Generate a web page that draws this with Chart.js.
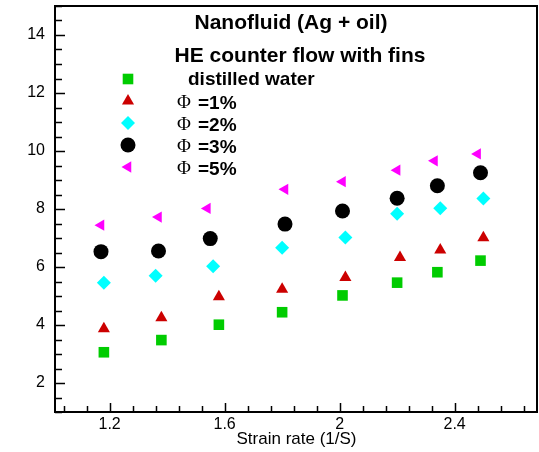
<!DOCTYPE html>
<html>
<head>
<meta charset="utf-8">
<script src="https://cdn.jsdelivr.net/npm/chart.js@4.4.1/dist/chart.umd.min.js"></script>
<style>
  html, body { margin: 0; padding: 0; background: #fff; }
  #wrap { width: 539px; height: 452px; }
</style>
</head>
<body>
<div id="wrap"><canvas id="chart" width="539" height="452"></canvas></div>
<script>
// --- data ---
const waterX = [1.18, 1.38, 1.58, 1.80, 2.01, 2.20, 2.34, 2.49];
const waterY = [3.06, 3.48, 4.01, 4.44, 5.02, 5.46, 5.82, 6.22];

const phi1X = [1.18, 1.38, 1.58, 1.80, 2.02, 2.21, 2.35, 2.50];
const phi1Y = [3.87, 4.25, 4.97, 5.23, 5.64, 6.33, 6.59, 7.01];

const phi2X = [1.18, 1.36, 1.56, 1.80, 2.02, 2.20, 2.35, 2.50];
const phi2Y = [5.46, 5.70, 6.03, 6.66, 7.02, 7.84, 8.03, 8.36];

const phi3X = [1.17, 1.37, 1.55, 1.81, 2.01, 2.20, 2.34, 2.49];
const phi3Y = [6.53, 6.55, 6.98, 7.48, 7.93, 8.37, 8.80, 9.25];

const phi5X = [1.17, 1.37, 1.54, 1.81, 2.01, 2.20, 2.33, 2.48];
const phi5Y = [7.44, 7.72, 8.02, 8.68, 8.94, 9.34, 9.66, 9.90];

const seriesNames = ['distilled water', '=1%', '=2%', '=3%', '=5%'];
const xTicks = [1.2, 1.6, 2, 2.4];
const xTickLabels = ['1.2', '1.6', '2', '2.4'];
const yTicks = [2, 4, 6, 8, 10, 12, 14];
const yTickLabels = ['2', '4', '6', '8', '10', '12', '14'];

const toPoints = (xs, ys) => xs.map((x, i) => ({ x: x, y: ys[i] }));

const SANS = '"Liberation Sans", Arial, sans-serif';

// inward tick marks + box frame
const frameTicks = {
    id: 'frameTicks',
    afterDraw(chart) {
        const { ctx, chartArea: a, scales: { x, y } } = chart;
        ctx.save();
        ctx.strokeStyle = '#000';
        ctx.lineWidth = 1.5;
        ctx.beginPath();
        // y: minor every 0.5, major every 2
        for (let i = 0; i <= 28; i++) {
            const v = 1 + i * 0.5;
            const p = Math.round(y.getPixelForValue(v)) + 0.5;
            const len = (i % 4 === 2) ? 10 : 7;
            ctx.moveTo(a.left, p);
            ctx.lineTo(a.left + len, p);
        }
        // x: minor every 0.08, major every 0.4
        for (let i = 0; i <= 20; i++) {
            const v = 1.04 + i * 0.08;
            const p = Math.round(x.getPixelForValue(v)) + 0.5;
            const len = (i % 5 === 2) ? 9 : 6;
            ctx.moveTo(p, a.bottom);
            ctx.lineTo(p, a.bottom - len);
        }
        ctx.stroke();
        ctx.lineWidth = 2;
        ctx.strokeRect(a.left, a.top, a.right - a.left - 1, a.bottom - a.top);
        ctx.restore();
    }
};

// title block and legend inside the plot
const notes = {
    id: 'notes',
    afterDraw(chart) {
        const ctx = chart.ctx;
        ctx.save();
        ctx.fillStyle = '#000';
        ctx.textBaseline = 'middle';
        ctx.textAlign = 'center';
        ctx.font = 'bold 21px ' + SANS;
        ctx.fillText('Nanofluid (Ag + oil)', 291, 23);
        ctx.fillText('HE counter flow with fins', 300, 56);

        const rows = [79, 101, 123, 145, 167];
        chart.data.datasets.forEach((ds, i) => {
            const opts = {
                pointStyle: ds.pointStyle,
                radius: ds.pointRadius,
                rotation: ds.rotation || 0,
                borderWidth: 0
            };
            ctx.fillStyle = ds.backgroundColor;
            ctx.strokeStyle = ds.backgroundColor;
            Chart.helpers.drawPoint(ctx, opts, 128, rows[i]);
        });

        ctx.fillStyle = '#000';
        ctx.textAlign = 'left';
        ctx.font = 'bold 19px ' + SANS;
        ctx.fillText(seriesNames[0], 188, 80);
        for (let i = 1; i < seriesNames.length; i++) {
            ctx.font = '19px "Liberation Serif", serif';
            ctx.fillText('\u03A6', 177, rows[i] + 2);
            ctx.font = 'bold 19px ' + SANS;
            ctx.fillText(seriesNames[i], 198, rows[i] + 3);
        }
        ctx.restore();
    }
};

const noEdgePad = s => {
    s.paddingTop = 0; s.paddingBottom = 0;
    s.paddingLeft = 0; s.paddingRight = 0;
};

new Chart(document.getElementById('chart'), {
    type: 'scatter',
    data: {
        datasets: [
            { label: seriesNames[0], data: toPoints(waterX, waterY), pointStyle: 'rect', pointRadius: 7.5, backgroundColor: '#00cc00' },
            { label: seriesNames[1], data: toPoints(phi1X, phi1Y), pointStyle: 'triangle', pointRadius: 7, backgroundColor: '#cc0000' },
            { label: seriesNames[2], data: toPoints(phi2X, phi2Y), pointStyle: 'rectRot', pointRadius: 7, backgroundColor: '#00ffff' },
            { label: seriesNames[3], data: toPoints(phi3X, phi3Y), pointStyle: 'circle', pointRadius: 7.5, backgroundColor: '#000000' },
            { label: seriesNames[4], data: toPoints(phi5X, phi5Y), pointStyle: 'triangle', rotation: -90, pointRadius: 6.5, backgroundColor: '#ff00ff' }
        ].map(ds => Object.assign(ds, { borderWidth: 0, borderColor: ds.backgroundColor, pointHoverRadius: ds.pointRadius, showLine: false }))
    },
    options: {
        responsive: false,
        animation: false,
        layout: { autoPadding: false, padding: { top: 6, right: 1, left: 0, bottom: 0 } },
        plugins: { legend: { display: false }, tooltip: { enabled: false } },
        scales: {
            x: {
                type: 'linear',
                min: 1.01,
                max: 2.69,
                grid: { display: false, drawTicks: false },
                border: { display: false },
                afterBuildTicks: s => { s.ticks = xTicks.map(v => ({ value: v })); },
                afterFit: s => { s.height = 40; noEdgePad(s); },
                ticks: {
                    color: '#000',
                    padding: 3,
                    maxRotation: 0,
                    font: { family: SANS, size: 16 },
                    callback: (v, i) => xTickLabels[i]
                },
                title: {
                    display: true,
                    text: 'Strain rate (1/S)',
                    color: '#000',
                    font: { family: SANS, size: 17 },
                    padding: { top: 2, bottom: 2 }
                }
            },
            y: {
                type: 'linear',
                min: 1,
                max: 15,
                grid: { display: false, drawTicks: false },
                border: { display: false },
                afterBuildTicks: s => { s.ticks = yTicks.map(v => ({ value: v })); },
                afterFit: s => { s.width = 55; noEdgePad(s); },
                ticks: {
                    color: '#000',
                    padding: 10,
                    font: { family: SANS, size: 16 },
                    callback: (v, i) => yTickLabels[i]
                }
            }
        }
    },
    plugins: [frameTicks, notes]
});
</script>
</body>
</html>
